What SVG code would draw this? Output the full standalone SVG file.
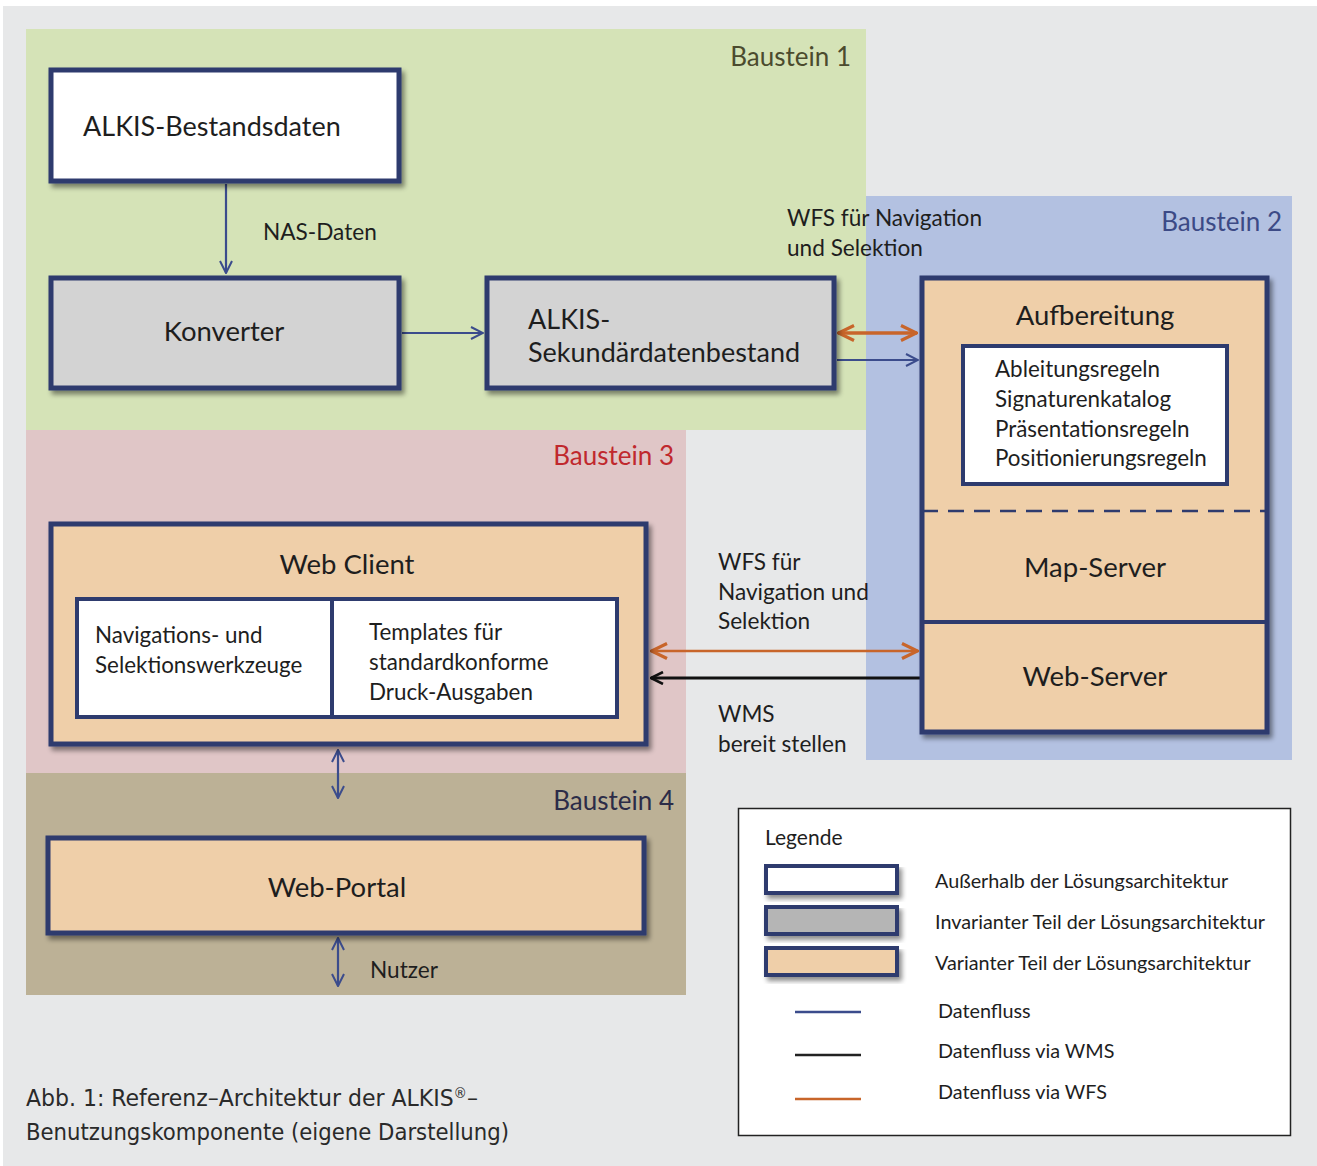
<svg xmlns="http://www.w3.org/2000/svg" width="1317" height="1166" viewBox="0 0 1317 1166">
<defs>
<style>
text{font-family:Lato,"Open Sans","DejaVu Sans",sans-serif;fill:#1e1e1e}
.box{stroke:#2e3b6e;stroke-width:5;filter:url(#sh)}
.white{fill:#ffffff}
.gray{fill:#d3d3d3}
.tan{fill:#efcfa9}
.lbl{font-size:22.6px}
.big{font-size:27px}
.mid{font-size:27.5px}
.sm{font-size:22.4px}
.leg{font-size:19.8px}
.flow{stroke:#3b4c8c;stroke-width:2.2;fill:none}
.wfs{stroke:#c8652a;stroke-width:3.5;fill:none}
.wms{stroke:#111111;stroke-width:3;fill:none}
.bs{font-size:26px}
.cap{font-family:'DejaVu Sans Condensed','Liberation Sans Narrow',sans-serif;font-size:23px;fill:#2a2a2a}
</style>
<filter id="sh" x="-10%" y="-10%" width="130%" height="140%">
<feGaussianBlur in="SourceAlpha" stdDeviation="2.5"/>
<feOffset dx="3" dy="4" result="o"/>
<feComponentTransfer><feFuncA type="linear" slope="0.45"/></feComponentTransfer>
<feMerge><feMergeNode/><feMergeNode in="SourceGraphic"/></feMerge>
</filter>
<marker id="aB" viewBox="0 0 14 14" refX="13" refY="7" markerWidth="14" markerHeight="14" markerUnits="userSpaceOnUse" orient="auto-start-reverse"><path d="M1,1 L13,7 L1,13" fill="none" stroke="#3b4c8c" stroke-width="2"/></marker>
<marker id="aO" viewBox="0 0 18 18" refX="17" refY="9" markerWidth="18" markerHeight="18" markerUnits="userSpaceOnUse" orient="auto-start-reverse"><path d="M1,1.5 L16.5,9 L1,16.5" fill="none" stroke="#c8652a" stroke-width="3.2"/></marker>
<marker id="aK" viewBox="0 0 14 14" refX="13" refY="7" markerWidth="14" markerHeight="14" markerUnits="userSpaceOnUse" orient="auto-start-reverse"><path d="M1,1 L13,7 L1,13" fill="none" stroke="#111" stroke-width="2.6"/></marker>
</defs>
<rect x="0" y="0" width="1317" height="1166" fill="#ffffff"/>
<rect x="3" y="6" width="1314" height="1160" fill="#e7e8e9"/>

<g id="areas">
<rect x="26" y="29" width="840" height="401" fill="#d5e3b7"/>
<rect x="866" y="196" width="426" height="564" fill="#b3c1e1"/>
<rect x="26" y="430" width="660" height="343" fill="#e0c6c7"/>
<rect x="26" y="773" width="660" height="222" fill="#bcb196"/>
<text x="851" y="66" class="bs" text-anchor="end" style="fill:#4b4b2e">Baustein 1</text>
<text x="1282" y="231" class="bs" text-anchor="end" style="fill:#3c4a86">Baustein 2</text>
<text x="674" y="465" class="bs" text-anchor="end" style="fill:#c0282d">Baustein 3</text>
<text x="674" y="810" class="bs" text-anchor="end" style="fill:#2c2c48">Baustein 4</text>
</g>

<g id="connectors">
<line x1="226" y1="184" x2="226" y2="273" class="flow" marker-end="url(#aB)"/>
<line x1="402" y1="333" x2="483" y2="333" class="flow" marker-end="url(#aB)"/>
<line x1="838" y1="333" x2="917" y2="333" class="wfs" marker-start="url(#aO)" marker-end="url(#aO)"/>
<line x1="837" y1="360" x2="918" y2="360" class="flow" marker-end="url(#aB)"/>
<line x1="651" y1="651" x2="918" y2="651" class="wfs" marker-start="url(#aO)" marker-end="url(#aO)" style="stroke-width:2.5"/>
<line x1="920" y1="678" x2="651" y2="678" class="wms" marker-end="url(#aK)"/>
<line x1="338" y1="750" x2="338" y2="798" class="flow" marker-start="url(#aB)" marker-end="url(#aB)"/>
<line x1="338" y1="938" x2="338" y2="986" class="flow" marker-start="url(#aB)" marker-end="url(#aB)"/>
<text x="263" y="240" class="lbl">NAS-Daten</text>
<text x="787" y="226" class="lbl">WFS für Navigation</text>
<text x="787" y="256" class="lbl">und Selektion</text>
<text x="718" y="570" class="lbl">WFS für</text>
<text x="718" y="600" class="lbl">Navigation und</text>
<text x="718" y="629" class="lbl">Selektion</text>
<text x="718" y="722" class="lbl">WMS</text>
<text x="718" y="752" class="lbl">bereit stellen</text>
<text x="370" y="978" class="lbl">Nutzer</text>
</g>

<g id="bestandsdaten">
<rect x="51" y="70" width="348" height="111" class="box white"/>
<text x="83" y="136" class="big">ALKIS-Bestandsdaten</text>
</g>

<g id="konverter">
<rect x="51" y="278" width="348" height="110" class="box gray"/>
<text x="224" y="341" class="mid" text-anchor="middle">Konverter</text>
</g>

<g id="sekundaer">
<rect x="487" y="278" width="347" height="110" class="box gray"/>
<text x="528" y="329" class="big">ALKIS-</text>
<text x="528" y="362" class="big">Sekundärdatenbestand</text>
</g>

<g id="aufbereitung">
<rect x="922" y="278" width="345" height="454" class="box tan"/>
<text x="1095" y="325" class="mid" text-anchor="middle">Aufbereitung</text>
<line x1="922" y1="511" x2="1267" y2="511" stroke="#2e3b6e" stroke-width="2.5" stroke-dasharray="16,10"/>
<line x1="922" y1="622" x2="1267" y2="622" stroke="#2e3b6e" stroke-width="4"/>
</g>

<g id="regeln">
<rect x="963" y="346" width="264" height="138" fill="#ffffff" stroke="#2e3b6e" stroke-width="4"/>
<text x="995" y="377" class="sm">Ableitungsregeln</text>
<text x="995" y="407" class="sm">Signaturenkatalog</text>
<text x="995" y="437" class="sm">Präsentationsregeln</text>
<text x="995" y="466" class="sm">Positionierungsregeln</text>
</g>

<g id="mapserver">
<text x="1095" y="577" class="mid" text-anchor="middle">Map-Server</text>
</g>

<g id="webserver">
<text x="1095" y="686" class="mid" text-anchor="middle">Web-Server</text>
</g>

<g id="webclient">
<rect x="51" y="524" width="595" height="220" class="box tan"/>
<text x="347" y="574" class="mid" text-anchor="middle">Web Client</text>
<rect x="77" y="599" width="540" height="118" fill="#ffffff" stroke="#2e3b6e" stroke-width="4"/>
<line x1="332" y1="599" x2="332" y2="717" stroke="#2e3b6e" stroke-width="4"/>
<text x="95" y="643" class="sm">Navigations- und</text>
<text x="95" y="673" class="sm">Selektionswerkzeuge</text>
<text x="369" y="640" class="sm">Templates für</text>
<text x="369" y="670" class="sm">standardkonforme</text>
<text x="369" y="700" class="sm">Druck-Ausgaben</text>
</g>

<g id="webportal">
<rect x="48" y="838" width="596" height="95" class="box tan"/>
<text x="337" y="897" class="mid" text-anchor="middle">Web-Portal</text>
</g>

<g id="legende">
<rect x="738.5" y="808.5" width="552" height="327" fill="#ffffff" stroke="#222" stroke-width="1.5"/>
<text x="765" y="845" style="font-size:21px">Legende</text>
<rect x="766" y="866" width="131" height="27" fill="#ffffff" stroke="#2e3b6e" stroke-width="4" filter="url(#sh)"/>
<rect x="766" y="907" width="131" height="27" fill="#b5b5b5" stroke="#2e3b6e" stroke-width="4" filter="url(#sh)"/>
<rect x="766" y="948" width="131" height="27" fill="#efcfa9" stroke="#2e3b6e" stroke-width="4" filter="url(#sh)"/>
<text x="935" y="888" class="leg">Außerhalb der Lösungsarchitektur</text>
<text x="935" y="929" class="leg">Invarianter Teil der Lösungsarchitektur</text>
<text x="935" y="970" class="leg">Varianter Teil der Lösungsarchitektur</text>
<line x1="795" y1="1012" x2="861" y2="1012" stroke="#3b4c8c" stroke-width="2.5"/>
<line x1="795" y1="1055" x2="861" y2="1055" stroke="#222" stroke-width="2.5"/>
<line x1="795" y1="1099" x2="861" y2="1099" stroke="#c8652a" stroke-width="2.5"/>
<text x="938" y="1018" class="leg">Datenfluss</text>
<text x="938" y="1058" class="leg">Datenfluss via WMS</text>
<text x="938" y="1099" class="leg">Datenfluss via WFS</text>
</g>

<g id="caption">
<text x="26" y="1106" class="cap" textLength="452" lengthAdjust="spacingAndGlyphs">Abb. 1: Referenz–Architektur der ALKIS<tspan font-size="14" dy="-8">®</tspan><tspan dy="8">–</tspan></text>
<text x="26" y="1140" class="cap" textLength="483" lengthAdjust="spacingAndGlyphs">Benutzungskomponente (eigene Darstellung)</text>
</g>
</svg>
